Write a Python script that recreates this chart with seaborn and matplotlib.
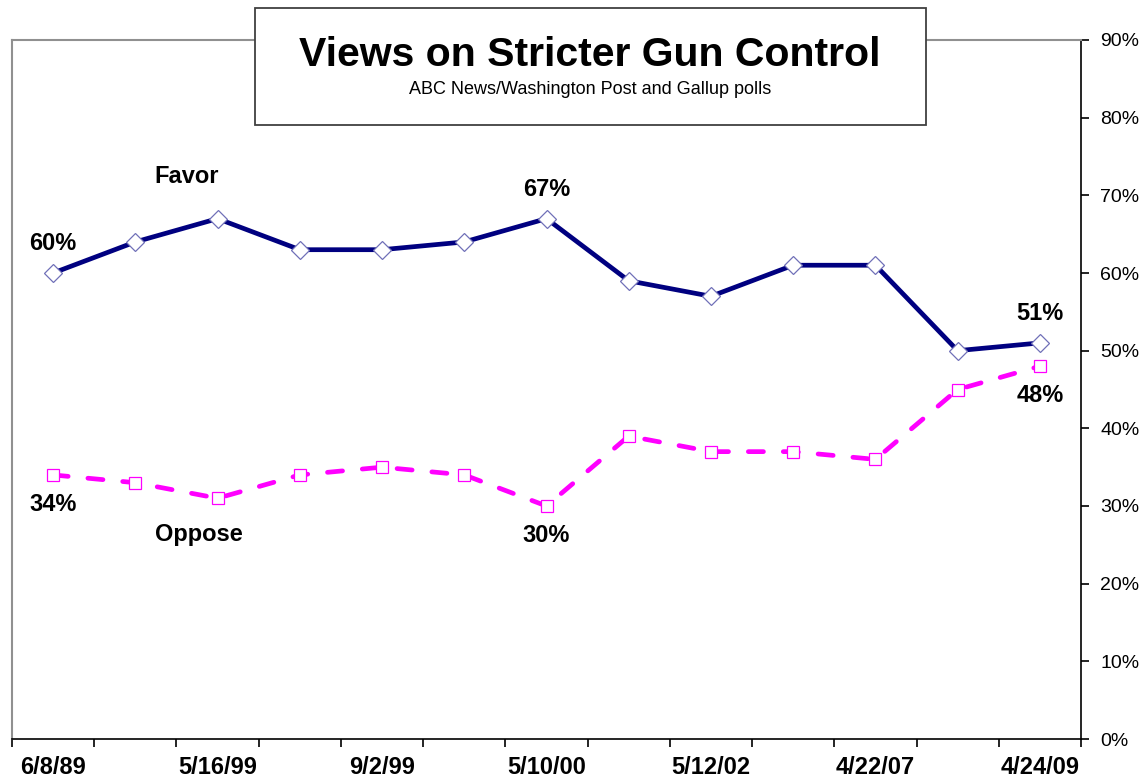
import numpy as np
import pandas as pd
import seaborn as sns
import matplotlib.pyplot as plt
from matplotlib.patches import Rectangle

# poll results (percent), 13 polls on a category axis
favor = [60, 64, 67, 63, 63, 64, 67, 59, 57, 61, 61, 50, 51]
oppose = [34, 33, 31, 34, 35, 34, 30, 39, 37, 37, 36, 45, 48]
date_labels = ['6/8/89', '5/16/99', '9/2/99', '5/10/00', '5/12/02', '4/22/07', '4/24/09']
labeled_points = [0, 6, 12]
y_ticks = list(range(0, 91, 10))

df = pd.DataFrame({'poll': np.arange(len(favor)), 'Favor': favor, 'Oppose': oppose})

sns.set_style('white')
plt.rcParams['font.family'] = ['Liberation Sans', 'DejaVu Sans']
plt.rcParams['text.color'] = 'black'
plt.rcParams['xtick.color'] = 'black'
plt.rcParams['ytick.color'] = 'black'

fig = plt.figure(figsize=(11.46, 7.83), dpi=100)
ax = fig.add_axes([12 / 1146, 1 - 739 / 783, (1081 - 12) / 1146, (739 - 40) / 783])

sns.lineplot(data=df, x='poll', y='Favor', ax=ax, color='#000080', lw=3.4,
             marker='D', markersize=9, markerfacecolor='white',
             markeredgecolor='#7070b8', markeredgewidth=0.9, zorder=3)
sns.lineplot(data=df, x='poll', y='Oppose', ax=ax, color='#ff00ff', lw=3.4,
             linestyle=(0, (3.2, 4.2)), dash_capstyle='round',
             marker='s', markersize=9, markerfacecolor='white',
             markeredgecolor='#ff00ff', markeredgewidth=0.9, zorder=3)

# value labels at first, middle and last poll
for i in labeled_points:
    ax.annotate(f'{favor[i]}%', (i, favor[i]), xytext=(0, 21), textcoords='offset points',
                ha='center', va='center', fontsize=17, fontweight='bold')
    ax.annotate(f'{oppose[i]}%', (i, oppose[i]), xytext=(0, -21), textcoords='offset points',
                ha='center', va='center', fontsize=17, fontweight='bold')

ax.text(1.62, 72.4, 'Favor', ha='center', va='center', fontsize=17, fontweight='bold')
ax.text(1.77, 26.3, 'Oppose', ha='center', va='center', fontsize=17, fontweight='bold')

ax.set_xlim(-0.5, len(favor) - 0.5)
ax.set_ylim(0, 90)
ax.set_xlabel('')
ax.set_ylabel('')

ax.set_xticks(np.arange(0, len(favor), 2))
ax.set_xticklabels(date_labels, fontsize=17, fontweight='bold')
ax.set_xticks(np.arange(-0.5, len(favor), 1), minor=True)
ax.tick_params(axis='x', which='major', length=0, pad=12)
ax.tick_params(axis='x', which='minor', direction='out', length=6, width=1.2, bottom=True)

ax.set_yticks(y_ticks)
ax.set_yticklabels([f'{v}%' for v in y_ticks], fontsize=14)
ax.yaxis.tick_right()
ax.tick_params(axis='y', which='major', direction='out', length=6, width=1.2,
               right=True, left=False, pad=8)

for side in ['left', 'top']:
    ax.spines[side].set_color('#909090')
    ax.spines[side].set_linewidth(1.5)
for side in ['right', 'bottom']:
    ax.spines[side].set_color('black')
    ax.spines[side].set_linewidth(1.2)
ax.grid(False)

# title box
fig.patches.append(Rectangle((255 / 1146, 1 - 125 / 783), (926 - 255) / 1146, (125 - 8) / 783,
                             transform=fig.transFigure, facecolor='white', edgecolor='#404040',
                             linewidth=1.3, zorder=10))
fig.text(590 / 1146, 1 - 55 / 783, 'Views on Stricter Gun Control', ha='center', va='center',
         fontsize=29.5, fontweight='bold', zorder=11)
fig.text(590 / 1146, 1 - 89 / 783, 'ABC News/Washington Post and Gallup polls', ha='center',
         va='center', fontsize=13, zorder=11)

fig.savefig('out.png', dpi=100)
